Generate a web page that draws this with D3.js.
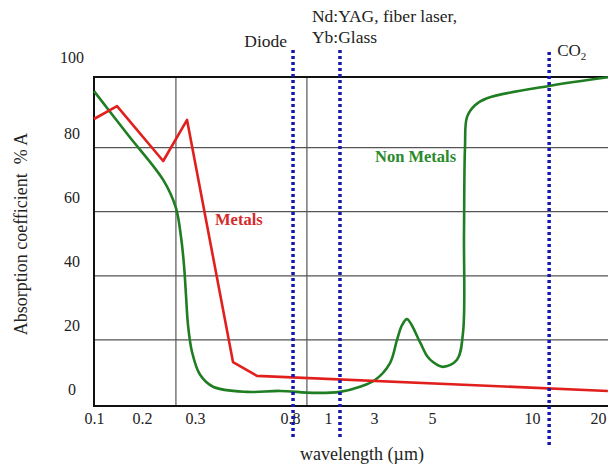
<!DOCTYPE html>
<html>
<head>
<meta charset="utf-8">
<script src="https://cdn.jsdelivr.net/npm/d3@7"></script>
<style>
  body { margin: 0; background: #fff; }
  svg { display: block; font-family: "Liberation Serif", "Times New Roman", serif; }
</style>
</head>
<body>
<svg id="chart" width="608" height="467"></svg>
<script>
// tick labels of the (hand made, non uniform) wavelength axis
const xTicks = [0.1, 0.2, 0.3, 0.8, 1, 3, 5, 10, 20];
const yTicks = [0, 20, 40, 60, 80, 100];
const xGrid = [0.264, 0.889];

// Metals curve (wavelength in µm, absorption in %)
const metalsWl  = [0.1, 0.148, 0.240, 0.285, 0.5, 0.626, 21.5];
const metalsAbs = [88.9, 92.9, 75.8, 88.6, 13.1, 8.8, 4.1];

// Non metals curve
const nonMetalsWl  = [0.1, 0.171, 0.240, 0.264, 0.2736, 0.2792, 0.283, 0.2868, 0.2943, 0.326, 0.395, 0.574,
                      0.747, 0.921, 1.522, 2.391, 3.034, 3.552, 3.793, 3.966, 4.138, 4.586, 4.83, 5.05,
                      5.55, 6.25, 6.55, 6.60, 6.65, 6.75, 7.15, 7.75, 12.58, 21.5];
const nonMetalsAbs = [97.6, 83.9, 69.9, 61.2, 52.1, 43.4, 34.0, 24.7, 16.3, 9.2, 5.4, 3.8,
                      4.1, 3.5, 3.8, 5.4, 7.5, 12.8, 20.0, 24.6, 26.5, 19.3, 15.0, 13.1,
                      11.6, 13.8, 22.2, 53.4, 80.2, 89.5, 93.2, 95.4, 99.2, 101.9];

// laser wavelengths (dotted markers)
const laserNames = ["Diode", "Nd:YAG", "CO2"];
const laserWl = [0.816, 1.52, 12.6];

const margin = { top: 77, right: 0, bottom: 61, left: 94 };
const width = 608 - margin.left - margin.right;
const height = 467 - margin.top - margin.bottom;

const svg = d3.select("#chart");
const g = svg.append("g").attr("transform", `translate(${margin.left},${margin.top})`);

// piecewise axis, tick spacing
const x = d3.scaleLinear()
    .domain(xTicks)
    .range([0, 48, 101, 196, 234, 280, 338, 438, 504]);

const y = d3.scaleLinear()
    .domain([-0.6, 102])
    .range([height, 0]);

// gridlines
g.selectAll(".grid-y")
    .data(yTicks.filter(d => d > 0 && d < 100))
    .enter().append("line")
    .attr("x1", 0).attr("x2", width)
    .attr("y1", d => y(d)).attr("y2", d => y(d))
    .style("stroke", "#555").style("stroke-width", 1.2);

g.selectAll(".grid-x")
    .data(xGrid)
    .enter().append("line")
    .attr("x1", d => x(d)).attr("x2", d => x(d))
    .attr("y1", 0).attr("y2", height)
    .style("stroke", "#555").style("stroke-width", 1.2);

// frame (top, left, bottom)
g.append("path")
    .attr("d", `M${width},0H0V${height}H${width}`)
    .style("fill", "none").style("stroke", "#111").style("stroke-width", 2);

// y labels sit a bit above their gridlines
g.selectAll(".y-label")
    .data(yTicks)
    .enter().append("text")
    .attr("x", -22)
    .attr("y", d => d === 100 ? y(d) - 20 : y(d) - 9)
    .attr("text-anchor", "middle")
    .style("font-size", "16px").style("fill", "#222")
    .text(d => d);

// x axis labels
const xAxis = g.append("g")
    .attr("transform", `translate(0,${height})`)
    .call(d3.axisBottom(x).tickValues(xTicks).tickSize(0).tickPadding(5).tickFormat(d => d));
xAxis.select(".domain").remove();
xAxis.selectAll("text")
    .attr("dy", "0.8em")
    .style("font-family", "Liberation Serif, serif")
    .style("font-size", "16px").style("fill", "#222");

// curves
const metals = metalsWl.map((w, i) => [w, metalsAbs[i]]);
const nonMetals = nonMetalsWl.map((w, i) => [w, nonMetalsAbs[i]]);

g.append("path")
    .datum(nonMetals)
    .attr("d", d3.line().x(d => x(d[0])).y(d => y(d[1])).curve(d3.curveCatmullRom.alpha(0.5)))
    .style("fill", "none").style("stroke", "#1f7d22").style("stroke-width", 2.6);

g.append("path")
    .datum(metals)
    .attr("d", d3.line().x(d => x(d[0])).y(d => y(d[1])))
    .style("fill", "none").style("stroke", "#e1201d").style("stroke-width", 2.6)
    .style("stroke-linejoin", "round");

// laser markers
g.selectAll(".laser")
    .data(laserWl)
    .enter().append("line")
    .attr("x1", d => x(d)).attr("x2", d => x(d))
    .attr("y1", (d, i) => i === 2 ? -25 : -27)
    .attr("y2", (d, i) => i === 2 ? height + 39 : height + 32)
    .style("stroke", "#1616b0").style("stroke-width", 3.5)
    .style("stroke-dasharray", "3,3");

g.append("text")
    .attr("x", x(laserWl[0]) - 6).attr("y", -30)
    .attr("text-anchor", "end")
    .style("font-size", "17.5px").style("fill", "#222")
    .text(laserNames[0]);

g.append("text")
    .attr("x", x(laserWl[1]) - 28).attr("y", -55)
    .style("font-size", "17.5px").style("fill", "#222")
    .text(laserNames[1] + ", fiber laser,");

g.append("text")
    .attr("x", x(laserWl[1]) - 28).attr("y", -34)
    .style("font-size", "17.5px").style("fill", "#222")
    .text("Yb:Glass");

const co2 = g.append("text")
    .attr("x", x(laserWl[2]) + 8).attr("y", -21)
    .style("font-size", "17px").style("fill", "#222");
co2.append("tspan").text("CO");
co2.append("tspan").attr("dy", 4).style("font-size", "11px").text("2");

// series labels
g.append("text")
    .attr("x", 121).attr("y", 148)
    .style("font-size", "16.5px").style("font-weight", "bold").style("fill", "#d42a2a")
    .text("Metals");

g.append("text")
    .attr("x", 281).attr("y", 85)
    .style("font-size", "16.5px").style("font-weight", "bold").style("fill", "#2a8a2a")
    .text("Non Metals");

// axis titles
g.append("text")
    .attr("x", width / 2 + 11).attr("y", height + 54)
    .attr("text-anchor", "middle")
    .style("font-size", "18px").style("fill", "#222")
    .text("wavelength (µm)");

g.append("text")
    .attr("transform", "rotate(-90)")
    .attr("x", -157).attr("y", -67)
    .attr("text-anchor", "middle")
    .style("font-size", "18px").style("fill", "#222")
    .style("white-space", "pre")
    .text("Absorption coefficient  % A");
</script>
</body>
</html>
